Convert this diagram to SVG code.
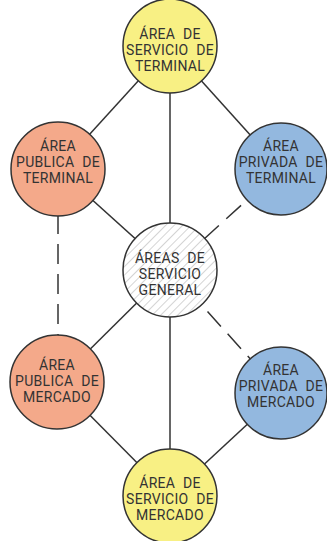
<svg xmlns="http://www.w3.org/2000/svg" width="327" height="541" viewBox="0 0 327 541">
<style>
.n{stroke:#333;stroke-width:1.5}
.y{fill:#F8F084}
.o{fill:#F4A98A}
.b{fill:#93B8DF}
.h{fill:url(#hatch)}
.c line{stroke:#333;stroke-width:1.5}
.d{stroke-dasharray:20 10}
text{font-family:"Roboto","Liberation Sans",sans-serif;font-size:14px;fill:#333;text-anchor:middle;word-spacing:4px;letter-spacing:0.3px}
</style>
<defs>
<pattern id="hatch" patternUnits="userSpaceOnUse" width="6" height="6" patternTransform="rotate(45)">
<rect width="6" height="6" fill="#fff"/>
<line x1="0" y1="0" x2="0" y2="6" stroke="#b0b0b0" stroke-width="1.1"/>
</pattern>
</defs>
<g class="c" id="connectors">
<line x1="170" y1="46" x2="58" y2="169"/>
<line x1="170" y1="46" x2="170" y2="270"/>
<line x1="170" y1="46" x2="281" y2="169"/>
<line x1="58" y1="169" x2="170" y2="270"/>
<line class="d" x1="281" y1="169" x2="170" y2="270" stroke-dashoffset="6"/>
<line class="d" x1="58" y1="214" x2="58" y2="337"/>
<line x1="170" y1="270" x2="57" y2="382"/>
<line class="d" x1="170" y1="270" x2="281" y2="393" stroke-dashoffset="4"/>
<line x1="170" y1="270" x2="170" y2="496"/>
<line x1="57" y1="382" x2="170" y2="496"/>
<line x1="281" y1="393" x2="170" y2="496"/>
</g>
<g id="servicio-terminal">
<circle class="n y" cx="170" cy="46" r="47"/>
<text x="170" y="39">ÁREA DE</text>
<text x="170" y="55">SERVICIO DE</text>
<text x="170" y="71">TERMINAL</text>
</g>
<g id="publica-terminal">
<circle class="n o" cx="58" cy="169" r="47"/>
<text x="58" y="151">ÁREA</text>
<text x="58" y="167">PUBLICA DE</text>
<text x="58" y="183">TERMINAL</text>
</g>
<g id="privada-terminal">
<circle class="n b" cx="281" cy="169" r="46"/>
<text x="281" y="151">ÁREA</text>
<text x="281" y="167">PRIVADA DE</text>
<text x="281" y="183">TERMINAL</text>
</g>
<g id="servicio-general">
<circle class="n h" cx="170" cy="270" r="47"/>
<text x="170" y="263">ÁREAS DE</text>
<text x="170" y="279">SERVICIO</text>
<text x="170" y="295">GENERAL</text>
</g>
<g id="publica-mercado">
<circle class="n o" cx="57" cy="382" r="47"/>
<text x="57" y="370">ÁREA</text>
<text x="57" y="386">PUBLICA DE</text>
<text x="57" y="402">MERCADO</text>
</g>
<g id="privada-mercado">
<circle class="n b" cx="281" cy="393" r="46"/>
<text x="281" y="375">ÁREA</text>
<text x="281" y="391">PRIVADA DE</text>
<text x="281" y="407">MERCADO</text>
</g>
<g id="servicio-mercado">
<circle class="n y" cx="170" cy="496" r="47"/>
<text x="170" y="488">ÁREA DE</text>
<text x="170" y="504">SERVICIO DE</text>
<text x="170" y="520">MERCADO</text>
</g>
</svg>
